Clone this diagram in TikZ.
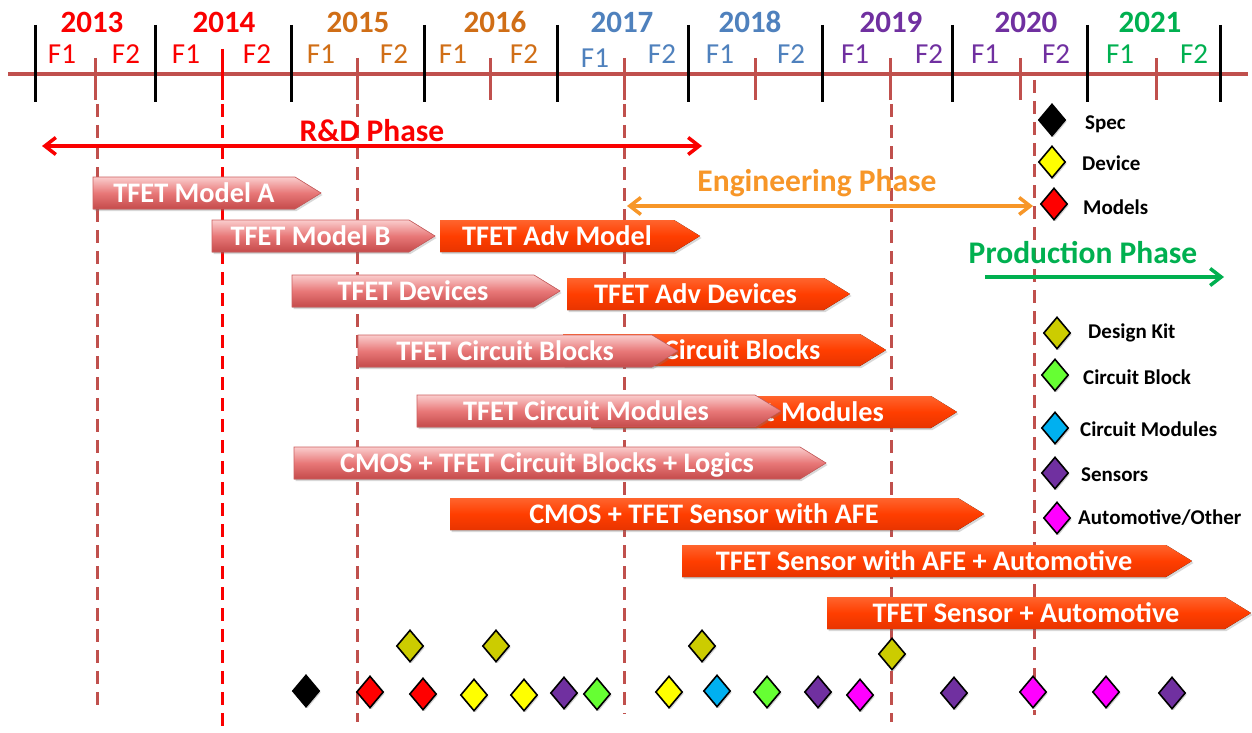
\documentclass[tikz,border=0pt]{standalone}
\usepackage{fontspec}
\setmainfont{Carlito}
\usetikzlibrary{arrows.meta,shapes.geometric,shadows}

% palette
\definecolor{tlRed}{RGB}{192,80,77}
\definecolor{yrRed}{RGB}{250,0,0}
\definecolor{yrOrange}{RGB}{208,110,22}
\definecolor{yrBlue}{RGB}{79,129,189}
\definecolor{yrPurple}{RGB}{112,48,160}
\definecolor{yrGreen}{RGB}{0,176,80}
\definecolor{engOrange}{RGB}{247,150,40}
\definecolor{pinkTop}{RGB}{250,205,205}
\definecolor{pinkMid}{RGB}{232,120,120}
\definecolor{pinkBot}{RGB}{196,74,74}
\definecolor{pinkEdge}{RGB}{205,95,95}
\definecolor{orTop}{RGB}{255,100,45}
\definecolor{orMid}{RGB}{255,62,0}
\definecolor{orBot}{RGB}{232,52,0}
\definecolor{kitOlive}{RGB}{204,204,0}
\definecolor{blockGreen}{RGB}{102,255,51}
\definecolor{modCyan}{RGB}{0,176,240}
\definecolor{sensPurple}{RGB}{112,48,160}
\definecolor{autoMagenta}{RGB}{255,0,255}
\definecolor{devYellow}{RGB}{255,255,0}
\definecolor{modelRed}{RGB}{255,0,0}

% chevron: name, style, left x, tip x, centre y, text
\newcommand\chev[6]{%
  \fill[#2] ({#3},{#5-16}) -- ({#4-26},{#5-16}) -- ({#4},{#5}) -- ({#4-26},{#5+16}) -- ({#3},{#5+16}) -- cycle;
  \node[chevtext] (#1) at ({(#3+#4-26)/2},{#5}) {#6};}

\begin{document}
\begin{tikzpicture}[x=1pt,y=-1pt,
  timeline/.style={draw=tlRed,line width=4pt},
  yeartick/.style={draw=black,line width=3pt},
  halftick/.style={draw=tlRed,line width=3pt},
  guide/.style={draw=tlRed,line width=3pt,dash pattern=on 13pt off 8pt},
  yearlbl/.style={font=\fontsize{31}{33}\selectfont\bfseries,inner sep=0pt},
  halflbl/.style={font=\fontsize{29}{31}\selectfont,inner sep=0pt},
  phaselbl/.style={font=\fontsize{31.5}{33}\selectfont\bfseries,inner sep=0pt},
  phasearrow/.style={line width=3.5pt,arrows={Straight Barb[length=11pt,width=17pt]-Straight Barb[length=11pt,width=17pt]}},
  chevtext/.style={text=white,font=\fontsize{28.3}{30}\selectfont\bfseries,inner sep=0pt,text height=18pt,text depth=0pt},
  pinkchev/.style={top color=pinkTop,bottom color=pinkBot,middle color=pinkMid,draw=pinkEdge,line width=0.6pt,
    drop shadow={shadow xshift=1.5pt,shadow yshift=-2pt,opacity=0.3}},
  orangechev/.style={top color=orTop,bottom color=orBot,middle color=orMid,
    drop shadow={shadow xshift=1.5pt,shadow yshift=-2pt,opacity=0.3}},
  gem/.style={diamond,draw=black,line width=1.6pt,minimum width=27pt,minimum height=32pt,inner sep=0pt,
    drop shadow={shadow xshift=1.5pt,shadow yshift=-1.5pt,opacity=0.35}},
  legtext/.style={font=\fontsize{21}{23}\selectfont\bfseries,anchor=west,inner sep=0pt,text height=14pt,text depth=0pt}]

\useasboundingbox (0,0) rectangle (1252,733);
\fill[white] (0,0) rectangle (1252,733);

% ---- vertical milestone guides (behind everything else) ----
\draw[guide] (97,104) -- (97,712);
\draw[guide,draw=yrRed] (222,104) -- (222,733);
\draw[guide] (357,104) -- (357,722);
\draw[guide] (624,104) -- (624,714);
\draw[guide] (891,104) -- (891,722);
\draw[guide] (1034,80) -- (1034,715);

% ---- time axis ----
\coordinate (tlL) at (8,74);
\coordinate (tlR) at (1248,74);
\draw[timeline] (tlL) -- (tlR);
\foreach \x in {95,357,490,624,755,890,1020,1156}
  \draw[halftick] (\x,58) -- (\x,100);
\draw[draw=yrRed,line width=3pt] (222,49) -- (222,100);
\foreach \x in {35,155,291,424,557,688,822,952,1087,1220}
  \draw[yeartick] (\x,25) -- (\x,102);

% years
\foreach \x/\yr/\c in {92/2013/yrRed,224/2014/yrRed,358/2015/yrOrange,495/2016/yrOrange,
    622/2017/yrBlue,750/2018/yrBlue,891/2019/yrPurple,1026/2020/yrPurple,1150/2021/yrGreen}
  \node[yearlbl,text=\c] (y\yr) at (\x,22) {\yr};

% half-year labels
\foreach \x/\nm/\t/\c in {62/a13/F1/yrRed,126/b13/F2/yrRed,186/a14/F1/yrRed,257/b14/F2/yrRed,
    321/a15/F1/yrOrange,394/b15/F2/yrOrange,453/a16/F1/yrOrange,524/b16/F2/yrOrange,
    662/b17/F2/yrBlue,720/a18/F1/yrBlue,791/b18/F2/yrBlue,
    855/a19/F1/yrPurple,929/b19/F2/yrPurple,985/a20/F1/yrPurple,1056/b20/F2/yrPurple,
    1120/a21/F1/yrGreen,1194/b21/F2/yrGreen}
  \node[halflbl,text=\c] (h\nm) at (\x,54) {\t};
\node[halflbl,text=yrBlue] (ha17) at (595,58) {F1};

% ---- phases ----
\node[phaselbl,text=yrRed] (rdLabel) at (372,131) {R\&D Phase};
\coordinate (rdL) at (42,146);
\coordinate (rdR) at (702,146);
\draw[phasearrow,draw=yrRed] (rdL) -- (rdR);

\node[phaselbl,text=engOrange] (engLabel) at (817,183) {Engineering Phase};
\coordinate (engL) at (627,206);
\coordinate (engR) at (1033,206);
\draw[phasearrow,draw=engOrange] (engL) -- (engR);

\node[phaselbl,text=yrGreen] (prodLabel) at (1083,253) {Production Phase};
\coordinate (prodL) at (985,277);
\coordinate (prodR) at (1224,277);
\draw[line width=3.5pt,draw=yrGreen,-{Straight Barb[length=11pt,width=17pt]}] (prodL) -- (prodR);

% ---- work packages ----
\chev{modelA}{pinkchev}{93}{321}{193}{TFET Model A}
\chev{modelB}{pinkchev}{212}{435}{236}{TFET Model B}
\chev{advModel}{orangechev}{440}{700}{236}{TFET Adv Model}
\chev{devices}{pinkchev}{292}{560}{291}{TFET Devices}
\chev{advDevices}{orangechev}{567}{850}{294}{TFET Adv Devices}
\chev{blocksLate}{orangechev}{563}{886}{350}{TFET Circuit Blocks}
\chev{blocksEarly}{pinkchev}{358}{678}{351}{TFET Circuit Blocks}
\chev{modulesLate}{orangechev}{591}{957}{412}{TFET Circuit Modules}
\chev{modulesEarly}{pinkchev}{417}{781}{411}{TFET Circuit Modules}
\chev{cmosLogic}{pinkchev}{294}{826}{463}{CMOS + TFET Circuit Blocks + Logics}
\chev{cmosSensor}{orangechev}{450}{984}{514}{CMOS + TFET Sensor with AFE}
\chev{sensorAfeAuto}{orangechev}{682}{1192}{561}{TFET Sensor with AFE + Automotive}
\chev{sensorAuto}{orangechev}{827}{1251}{613}{TFET Sensor + Automotive}

% ---- legend ----
\node[gem,fill=black] (lgSpec) at (1052,120) {};
\node[legtext] (ltSpec) at (1085,123) {Spec};
\node[gem,fill=devYellow] (lgDevice) at (1052,162) {};
\node[legtext] (ltDevice) at (1082,163) {Device};
\node[gem,fill=modelRed] (lgModels) at (1054,204) {};
\node[legtext] (ltModels) at (1083,207) {Models};
\node[gem,fill=kitOlive] (lgKit) at (1057,333) {};
\node[legtext] (ltKit) at (1088,331) {Design Kit};
\node[gem,fill=blockGreen] (lgBlock) at (1055,375) {};
\node[legtext] (ltBlock) at (1083,377) {Circuit Block};
\node[gem,fill=modCyan] (lgModules) at (1055,428) {};
\node[legtext] (ltModules) at (1080,429) {Circuit Modules};
\node[gem,fill=sensPurple] (lgSensors) at (1055,473) {};
\node[legtext] (ltSensors) at (1081,474) {Sensors};
\node[gem,fill=autoMagenta] (lgAuto) at (1057,518) {};
\node[legtext] (ltAuto) at (1078,517) {Automotive/Other};

% ---- deliverables ----
\node[gem,fill=kitOlive] (kit1) at (410,646) {};
\node[gem,fill=kitOlive] (kit2) at (496,646) {};
\node[gem,fill=kitOlive] (kit3) at (702,646) {};
\node[gem,fill=kitOlive] (kit4) at (892,654) {};

\node[gem,fill=black] (m1) at (306,691) {};
\node[gem,fill=modelRed] (m2) at (370,692) {};
\node[gem,fill=modelRed] (m3) at (423,694) {};
\node[gem,fill=devYellow] (m4) at (474,695) {};
\node[gem,fill=devYellow] (m5) at (524,695) {};
\node[gem,fill=sensPurple] (m6) at (564,693) {};
\node[gem,fill=blockGreen] (m7) at (597,694) {};
\node[gem,fill=devYellow] (m8) at (669,692) {};
\node[gem,fill=modCyan] (m9) at (717,691) {};
\node[gem,fill=blockGreen] (m10) at (767,692) {};
\node[gem,fill=sensPurple] (m11) at (818,692) {};
\node[gem,fill=autoMagenta] (m12) at (860,695) {};
\node[gem,fill=sensPurple] (m13) at (954,693) {};
\node[gem,fill=autoMagenta] (m14) at (1033,692) {};
\node[gem,fill=autoMagenta] (m15) at (1106,692) {};
\node[gem,fill=sensPurple] (m16) at (1172,693) {};

\end{tikzpicture}
\end{document}
